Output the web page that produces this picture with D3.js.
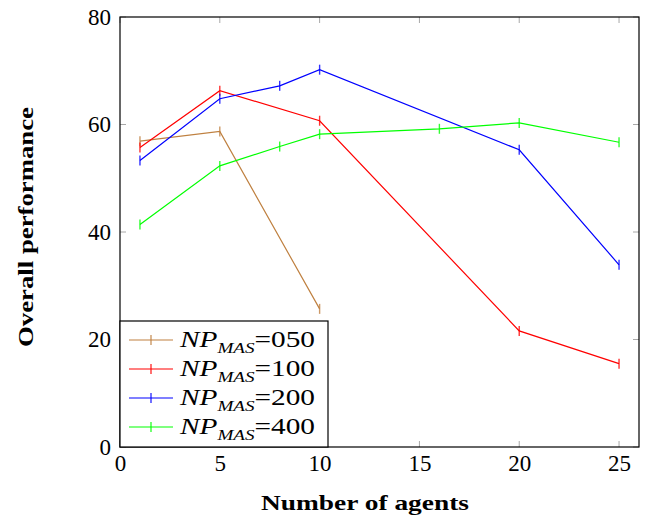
<!DOCTYPE html>
<html>
<head>
<meta charset="utf-8">
<script src="https://cdn.jsdelivr.net/npm/d3@7"></script>
<style>
  html, body { margin: 0; padding: 0; background: #fff; }
  svg { display: block; }
  text { font-family: "Liberation Serif", "DejaVu Serif", serif; }
</style>
</head>
<body>
<svg id="chart" width="651" height="519"></svg>
<script>
// Series data: number of agents vs overall performance
const xTicks = [0, 5, 10, 15, 20, 25];
const yTicks = [0, 20, 40, 60, 80];

const np050X = [1, 5, 10];
const np050Y = [56.9, 58.7, 25.7];

const np100X = [1, 5, 10, 20, 25];
const np100Y = [55.7, 66.3, 60.7, 21.6, 15.5];

const np200X = [1, 5, 8, 10, 20, 25];
const np200Y = [53.3, 64.8, 67.2, 70.2, 55.3, 33.9];

const np400X = [1, 5, 8, 10, 16, 20, 25];
const np400Y = [41.4, 52.3, 55.9, 58.2, 59.2, 60.3, 56.7];

const seriesNames = ["050", "100", "200", "400"];
const seriesColors = ["#bf8040", "#ff0000", "#0000ff", "#00ff00"];

const series = [
  { name: seriesNames[0], color: seriesColors[0], xs: np050X, ys: np050Y },
  { name: seriesNames[1], color: seriesColors[1], xs: np100X, ys: np100Y },
  { name: seriesNames[2], color: seriesColors[2], xs: np200X, ys: np200Y },
  { name: seriesNames[3], color: seriesColors[3], xs: np400X, ys: np400Y }
];

const svg = d3.select("#chart");
const L = 120, R = 639, T = 17, B = 447;

const x = d3.scaleLinear().domain([0, 26]).range([L, R]);
const y = d3.scaleLinear().domain([0, 80]).range([B, T]);

const tickLen = 6;
const tickColor = "#a8a8a8";

// inner tick marks on all four sides
const g = svg.append("g");
xTicks.forEach(v => {
  g.append("line").attr("x1", x(v)).attr("x2", x(v)).attr("y1", B).attr("y2", B - tickLen)
    .attr("stroke", tickColor).attr("stroke-width", 1);
  g.append("line").attr("x1", x(v)).attr("x2", x(v)).attr("y1", T).attr("y2", T + tickLen)
    .attr("stroke", tickColor).attr("stroke-width", 1);
});
yTicks.forEach(v => {
  g.append("line").attr("x1", L).attr("x2", L + tickLen).attr("y1", y(v)).attr("y2", y(v))
    .attr("stroke", tickColor).attr("stroke-width", 1);
  g.append("line").attr("x1", R).attr("x2", R - tickLen).attr("y1", y(v)).attr("y2", y(v))
    .attr("stroke", tickColor).attr("stroke-width", 1);
});

// tick labels
const xAxis = d3.axisBottom(x).tickValues(xTicks).tickSize(0).tickPadding(8);
const yAxis = d3.axisLeft(y).tickValues(yTicks).tickSize(0).tickPadding(9);
const gx = svg.append("g").attr("transform", `translate(0,${B})`).call(xAxis);
const gy = svg.append("g").attr("transform", `translate(${L},0)`).call(yAxis);
[gx, gy].forEach(a => {
  a.select(".domain").remove();
  a.selectAll("text").style("font-family", "'Liberation Serif', serif")
    .attr("font-size", 23).attr("fill", "#000");
});

// lines and vertical bar marks
const line = d3.line().x(d => x(d[0])).y(d => y(d[1]));
series.forEach(s => {
  const pts = s.xs.map((v, i) => [v, s.ys[i]]);
  svg.append("path").datum(pts).attr("d", line)
    .attr("fill", "none").attr("stroke", s.color).attr("stroke-width", 1.2);
  svg.append("g").selectAll("line").data(pts).join("line")
    .attr("x1", d => x(d[0])).attr("x2", d => x(d[0]))
    .attr("y1", d => y(d[1]) - 5).attr("y2", d => y(d[1]) + 5)
    .attr("stroke", s.color).attr("stroke-width", 1.4).attr("stroke-opacity", 0.8);
});

// plot frame
svg.append("rect").attr("x", L).attr("y", T).attr("width", R - L).attr("height", B - T)
  .attr("fill", "none").attr("stroke", "#000").attr("stroke-width", 1.2);

// legend
const lgX = L, lgY = 321, lgW = 208, lgH = B - lgY;
const lg = svg.append("g");
lg.append("rect").attr("x", lgX).attr("y", lgY).attr("width", lgW).attr("height", lgH)
  .attr("fill", "#fff").attr("stroke", "#000").attr("stroke-width", 1.2);
series.forEach((s, i) => {
  const cy = lgY + 19 + i * 29;
  lg.append("line").attr("x1", lgX + 9).attr("x2", lgX + 53).attr("y1", cy).attr("y2", cy)
    .attr("stroke", s.color).attr("stroke-width", 1.2);
  lg.append("line").attr("x1", lgX + 31).attr("x2", lgX + 31).attr("y1", cy - 5).attr("y2", cy + 5)
    .attr("stroke", s.color).attr("stroke-width", 1.4).attr("stroke-opacity", 0.8);
  const t = lg.append("text").attr("x", lgX + 60).attr("y", cy + 7).attr("font-size", 23).attr("fill", "#000")
    .attr("textLength", 135).attr("lengthAdjust", "spacingAndGlyphs");
  t.append("tspan").attr("font-style", "italic").text("NP");
  t.append("tspan").attr("font-style", "italic").attr("font-size", 15).attr("dy", 6).text("MAS");
  t.append("tspan").attr("dy", -6).text("=" + s.name);
});

// axis titles
svg.append("text").attr("x", 365).attr("y", 510).attr("text-anchor", "middle")
  .attr("font-size", 22).attr("font-weight", "bold")
  .attr("textLength", 208).attr("lengthAdjust", "spacingAndGlyphs")
  .text("Number of agents");
svg.append("text").attr("transform", `translate(33,227) rotate(-90)`)
  .attr("text-anchor", "middle").attr("font-size", 22).attr("font-weight", "bold")
  .attr("textLength", 240).attr("lengthAdjust", "spacingAndGlyphs")
  .text("Overall performance");
</script>
</body>
</html>
